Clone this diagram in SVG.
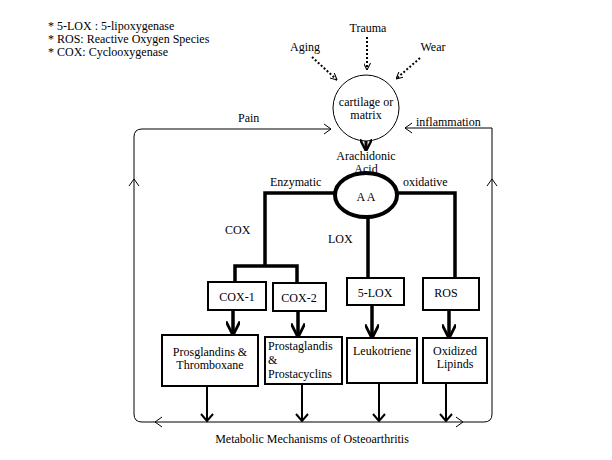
<svg xmlns="http://www.w3.org/2000/svg" width="612" height="460" viewBox="0 0 612 460" font-family="'Liberation Serif', 'Times New Roman', serif">
<defs>
<marker id="open" viewBox="0 0 10 10" refX="10" refY="5" markerWidth="7" markerHeight="7" orient="auto" markerUnits="userSpaceOnUse"><path d="M0,0 L10,5 L0,10" fill="none" stroke="#000" stroke-width="1.5"/></marker>
<marker id="thick" viewBox="0 0 10 10" refX="9" refY="5" markerWidth="4" markerHeight="4" orient="auto"><path d="M0,0 L10,5 L0,10" fill="none" stroke="#000" stroke-width="2"/></marker>
</defs>
<style>
text{font-family:'Liberation Serif','Times New Roman',serif;font-size:12px;fill:#000}
.c{text-anchor:middle}
.box{fill:#fff;stroke:#000;stroke-width:2}
.thin{fill:none;stroke:#000;stroke-width:1}
.bold{fill:none;stroke:#000;stroke-width:3.5}
.dot{fill:none;stroke:#000;stroke-width:2;stroke-dasharray:2 2}
</style>
<rect width="612" height="460" fill="#fff"/>
<g id="legend">
<text x="48" y="30" font-size="11">* 5-LOX : 5-lipoxygenase</text>
<text x="48" y="43" font-size="11">* ROS: Reactive Oxygen Species</text>
<text x="48" y="56" font-size="11">* COX: Cyclooxygenase</text>
</g>
<g id="trauma"><text class="c" x="368" y="32">Trauma</text></g>
<g id="aging"><text class="c" x="305" y="51">Aging</text></g>
<g id="wear"><text class="c" x="433" y="51">Wear</text></g>
<g id="cartilage"><circle cx="366" cy="108" r="33" fill="#fff" stroke="#000" stroke-width="1"/>
<text class="c" x="366" y="106" font-size="11">cartilage or</text><text class="c" x="366" y="119" font-size="11">matrix</text></g>
<g id="aa"><ellipse cx="366" cy="195" rx="31" ry="22" fill="#fff" stroke="#000" stroke-width="4"/>
<text class="c" x="366" y="160">Arachidonic</text><text class="c" x="366" y="173">Acid</text>
<text class="c" x="366" y="201">A A</text></g>
<g id="cox1"><rect class="box" x="208" y="282" width="58" height="28"/><text class="c" x="237" y="301">COX-1</text></g>
<g id="cox2"><rect class="box" x="273" y="283" width="53" height="28"/><text class="c" x="299" y="302">COX-2</text></g>
<g id="lox5"><rect class="box" x="347" y="278" width="57" height="27"/><text class="c" x="375" y="297">5-LOX</text></g>
<g id="ros"><rect class="box" x="423" y="278" width="56" height="32"/><text class="c" x="446" y="297">ROS</text></g>
<g id="pt"><rect class="box" x="162" y="335" width="96" height="51" stroke-width="3"/><text class="c" x="210" y="356">Prosglandins &amp;</text><text class="c" x="210" y="369">Thromboxane</text></g>
<g id="pp"><rect class="box" x="265" y="337" width="77" height="47"/><text x="268" y="350">Prostaglandis</text><text x="268" y="364">&amp;</text><text x="268" y="378">Prostacyclins</text></g>
<g id="leuko"><rect class="box" x="347" y="338" width="70" height="45"/><text class="c" x="382" y="355">Leukotriene</text></g>
<g id="oxl"><rect class="box" x="423" y="338" width="64" height="45"/><text class="c" x="455" y="355">Oxidized</text><text class="c" x="455" y="368">Lipinds</text></g>
<g id="connectors">
<line class="dot" x1="367" y1="37" x2="367" y2="70" marker-end="url(#open)"/>
<line class="dot" x1="312" y1="57" x2="337" y2="80" marker-end="url(#open)"/>
<line class="dot" x1="420" y1="58" x2="396" y2="79" marker-end="url(#open)"/>
<path class="thin" d="M331,129 H142 Q134,129 134,137 V414 Q134,422 142,422 H484 Q492,422 492,414 V128 H405"/>
<path class="thin" d="M324,124 L331,129 L324,134 M412,123 L405,128 L412,133 M129,186 L134,179 L139,186 M487,186 L492,179 L497,186 M162,417 L155,422 L162,427 M456,417 L463,422 L456,427"/>
<line x1="366" y1="141" x2="366" y2="150" stroke="#000" stroke-width="3" marker-end="url(#thick)"/>
<path class="bold" d="M336,193 H265 V266 M235,282 V266 H297 V283 M396,193 H455 V278 M368,217 V278"/>
<g stroke="#000" stroke-width="3.5" marker-end="url(#thick)">
<line x1="233" y1="310" x2="233" y2="334"/><line x1="298" y1="311" x2="298" y2="336"/><line x1="372" y1="305" x2="372" y2="337"/><line x1="449" y1="310" x2="449" y2="337"/>
</g>
<g stroke="#000" stroke-width="2">
<path d="M207,386 V421 M302,384 V421 M379,383 V421 M446,383 V421"/>
<path fill="none" d="M201,414 L207,421 L213,414 M296,414 L302,421 L308,414 M373,414 L379,421 L385,414 M440,414 L446,421 L452,414"/>
</g>
</g>
<g id="labels">
<text x="238" y="122">Pain</text>
<text x="416" y="126">inflammation</text>
<text x="270" y="186">Enzymatic</text>
<text x="403" y="186">oxidative</text>
<text x="225" y="234">COX</text>
<text x="328" y="243">LOX</text>
<text class="c" x="312" y="443">Metabolic Mechanisms of Osteoarthritis</text>
</g>
</svg>
